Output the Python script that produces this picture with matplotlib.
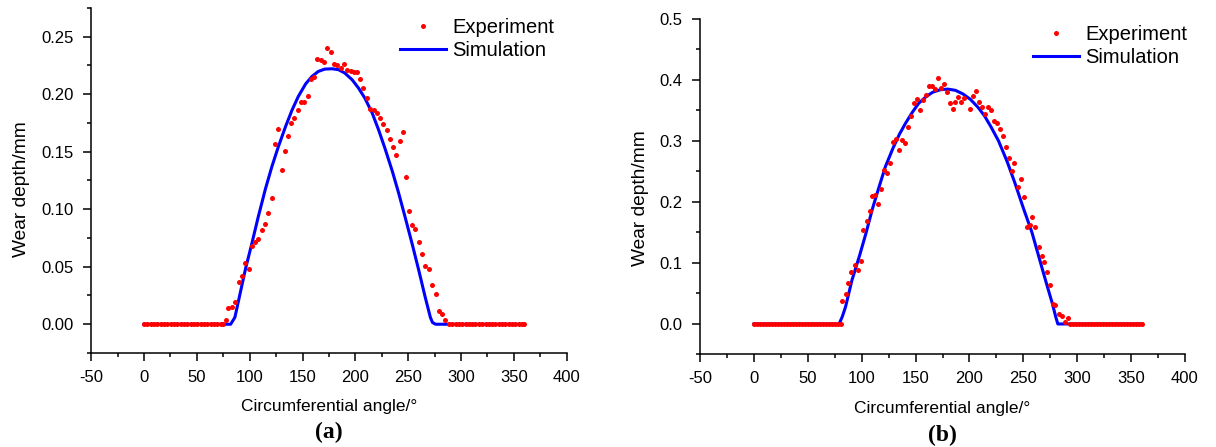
import numpy as np
import matplotlib.pyplot as plt

plt.rcParams['font.family'] = ['Liberation Sans', 'DejaVu Sans']
plt.rcParams['axes.unicode_minus'] = False

# ---- (a) experiment ----
exp_a_angle = [0, 3.2, 6.3, 9.5, 12.6, 15.8, 18.9, 22.1, 25.2, 28.4, 31.5, 34.7, 37.8,
               41.0, 44.1, 47.3, 50.4, 53.6, 56.7, 59.9, 63.0, 66.2, 69.3, 72.5, 75.0,
               77.3, 79.9, 83.0, 86.2, 90.0, 93.1, 95.6, 99.4, 102.0, 105.0, 108.0, 111.4,
               114.6, 117.7, 120.9, 124.0, 127.2, 130.4, 133.5, 136.7, 139.2, 142.3, 145.5,
               148.6, 151.8, 155.0, 157.8, 161.0, 164.1, 167.3, 170.5, 173.6, 176.8, 179.9,
               183.0, 186.3, 189.4, 192.5, 195.7, 198.9, 201.4, 204.5, 207.7, 210.9, 214.0,
               217.2, 220.4, 223.5, 226.6, 229.8, 233.0, 236.1, 238.6, 241.8, 245.0, 248.1,
               251.2, 253.8, 256.9, 260.1, 263.3, 266.4, 269.6, 272.1, 275.9, 279.1, 282.2,
               285.3, 288.5, 291.7, 294.8, 298.0, 301.1, 304.3, 307.4, 310.6, 313.7, 316.9,
               320.0, 323.2, 326.3, 329.5, 332.6, 335.8, 338.9, 342.1, 345.2, 348.4, 351.5,
               354.7, 357.8, 360.0]
exp_a_depth = [0] * 25 + [
               0.0035, 0.0137, 0.0151, 0.0189, 0.0366, 0.0418, 0.0534, 0.0476, 0.0679,
               0.0711, 0.0737, 0.0819, 0.0868, 0.0964, 0.110, 0.157, 0.170, 0.134, 0.151,
               0.164, 0.175, 0.179, 0.186, 0.193, 0.193, 0.198, 0.213, 0.215, 0.231, 0.230,
               0.228, 0.240, 0.237, 0.226, 0.225, 0.223, 0.226, 0.221, 0.220, 0.219, 0.2195,
               0.213, 0.205, 0.197, 0.187, 0.186, 0.1835, 0.179, 0.174, 0.169, 0.161, 0.1545,
               0.147, 0.159, 0.167, 0.128, 0.0987, 0.0862, 0.0825, 0.0711, 0.061, 0.0508,
               0.0476, 0.034, 0.0259, 0.0113, 0.0093, 0.0041] + [0] * 24

# ---- (a) simulation ----
sim_a_angle = [0, 82, 86, 91, 96, 102, 108, 115, 121, 127, 134, 140, 146, 153, 159, 165,
               171, 178, 184, 190, 197, 203, 209, 216, 222, 228, 235, 241, 247, 254, 260,
               266, 271, 273, 276, 360]
sim_a_depth = [0, 0, 0.006, 0.027, 0.048, 0.070, 0.093, 0.118, 0.137, 0.154, 0.172, 0.186,
               0.198, 0.209, 0.2155, 0.2198, 0.2218, 0.2221, 0.2213, 0.2184, 0.2125, 0.2053,
               0.1966, 0.1835, 0.169, 0.153, 0.133, 0.114, 0.0935, 0.069, 0.047, 0.024,
               0.006, 0.0015, 0, 0]

# ---- (b) experiment ----
exp_b_angle = [0, 2.8, 5.6, 8.4, 11.2, 14.0, 16.8, 19.6, 22.4, 25.2, 28.0, 30.8, 33.6,
               36.4, 39.2, 42.0, 44.8, 47.6, 50.4, 53.2, 56.0, 58.8, 61.6, 64.4, 67.2,
               70.0, 72.8, 75.6, 78.4, 80.5,
               82.1, 85.2, 87.7, 90.5, 93.6, 96.7, 99.2, 101.6, 104.7, 107.5, 110.0, 112.5,
               115.2, 118.0, 121.1, 123.9, 126.4, 129.2, 132.0, 134.8, 137.6, 140.3, 142.8,
               145.6, 148.7, 151.2, 154.3, 157.1, 159.6, 162.6, 165.7, 168.2, 170.7, 173.5,
               176.3, 178.7, 181.5, 184.3, 186.8, 189.6, 192.3, 195.1, 200.7, 203.5, 206.3,
               209.1, 211.9, 214.7, 217.5, 220.0, 222.4, 225.6, 228.4, 231.2, 234.0, 236.8,
               239.3, 241.7, 244.8, 247.6, 250.3, 253.1, 255.9, 258.4, 261.2, 264.2, 267.1,
               269.5, 272.3, 275.1, 277.9, 279.7, 282.8, 286.0, 288.7, 291.2,
               293.0, 295.8, 298.6, 301.4, 304.2, 307.0, 309.8, 312.6, 315.4, 318.2, 321.0,
               323.8, 326.6, 329.4, 332.2, 335.0, 337.8, 340.6, 343.4, 346.2, 349.0, 351.8,
               354.6, 357.4, 360.0]
exp_b_depth = [0] * 30 + [
               0.0377, 0.0487, 0.0667, 0.0847, 0.0967, 0.0885, 0.1033, 0.154, 0.168, 0.186,
               0.210, 0.212, 0.197, 0.221, 0.2525, 0.247, 0.2645, 0.299, 0.304, 0.285,
               0.3016, 0.297, 0.3224, 0.341, 0.362, 0.3683, 0.351, 0.367, 0.375, 0.390,
               0.3907, 0.385, 0.404, 0.386, 0.393, 0.381, 0.362, 0.352, 0.3645, 0.372,
               0.364, 0.370, 0.352, 0.3738, 0.382, 0.3645, 0.356, 0.345, 0.356, 0.351,
               0.333, 0.330, 0.319, 0.308, 0.2907, 0.2716, 0.2513, 0.2644, 0.224, 0.238,
               0.2077, 0.1595, 0.162, 0.176, 0.1595, 0.1267, 0.112, 0.102, 0.0852, 0.0639,
               0.0323, 0.031, 0.0164, 0.0131, 0.004, 0.0093] + [0] * 25

# ---- (b) simulation ----
sim_b_angle = [0, 79, 82, 85, 91, 98, 104, 110, 116, 122, 129, 135, 141, 147, 153, 160,
               166, 173, 180, 187, 194, 201, 208, 214, 220, 227, 235, 242, 250, 258, 266,
               272, 277, 280, 282, 360]
sim_b_depth = [0, 0, 0.012, 0.028, 0.072, 0.112, 0.149, 0.189, 0.224, 0.258, 0.288, 0.311,
               0.330, 0.347, 0.362, 0.373, 0.380, 0.384, 0.385, 0.383, 0.377, 0.368, 0.355,
               0.341, 0.323, 0.300, 0.266, 0.232, 0.190, 0.150, 0.100, 0.063, 0.033, 0.012,
               0, 0]

fig = plt.figure(figsize=(12.16, 4.47), dpi=100)
ax1 = fig.add_axes([0.075, 0.2103, 0.391, 0.772])
ax2 = fig.add_axes([0.5757, 0.207, 0.3988, 0.7506])

panels = [
    (ax1, exp_a_angle, exp_a_depth, sim_a_angle, sim_a_depth, (-0.025, 0.275), 0.05,
     (0.6496, 0.971)),
    (ax2, exp_b_angle, exp_b_depth, sim_b_angle, sim_b_depth, (-0.05, 0.5), 0.1,
     (0.6866, 0.9806)),
]

for ax, ea, ed, sa, sd, ylim, ystep, leg_pos in panels:
    ax.plot(ea, ed, 'o', color='#ff0000', ms=3.6, mew=0, label='Experiment', zorder=3)
    ax.plot(sa, sd, '-', color='#0000ff', lw=2.2, label='Simulation', zorder=2)
    ax.set_xlim(-50, 400)
    ax.set_ylim(*ylim)
    ax.set_xticks(np.arange(-50, 401, 50))
    ax.set_xticks(np.arange(-50, 401, 25), minor=True)
    yt = np.arange(0, ylim[1] + 1e-9, ystep)
    ax.set_yticks(yt)
    ax.set_yticks(np.arange(ylim[0], ylim[1] + 1e-9, ystep / 2), minor=True)
    if ystep == 0.05:
        ax.set_yticklabels(['%.2f' % v for v in yt])
    else:
        ax.set_yticklabels(['%.1f' % v for v in yt])
    for s in ['top', 'right']:
        ax.spines[s].set_visible(False)
    for s in ['left', 'bottom']:
        ax.spines[s].set_linewidth(1.1)
    ax.tick_params(which='major', direction='out', length=6, width=1.1, labelsize=12)
    ax.tick_params(axis='x', which='major', pad=6)
    ax.tick_params(axis='y', which='major', pad=6.5)
    ax.tick_params(which='minor', direction='out', length=3, width=1.1)
    ax.set_ylabel('Wear depth/mm', fontsize=13.8)
    ax.set_xlabel('Circumferential angle/°', fontsize=12.5)
    ax.legend(loc='upper left', bbox_to_anchor=leg_pos, frameon=False, fontsize=14.5,
              handlelength=2.3, handletextpad=0.3, labelspacing=0.2, numpoints=1,
              borderaxespad=0, borderpad=0)

ax1.yaxis.set_label_coords(-0.129, 0.475)
ax2.yaxis.set_label_coords(-0.105, 0.466)
ax1.xaxis.set_label_coords(0.5, -0.133)
ax2.xaxis.set_label_coords(0.5, -0.139)
ax1.text(0.5, -0.229, '(a)', transform=ax1.transAxes, ha='center', va='center',
         fontsize=17, fontweight='bold', family='Liberation Serif')
ax2.text(0.5, -0.24, '(b)', transform=ax2.transAxes, ha='center', va='center',
         fontsize=17, fontweight='bold', family='Liberation Serif')

fig.savefig('out.png', dpi=100)
